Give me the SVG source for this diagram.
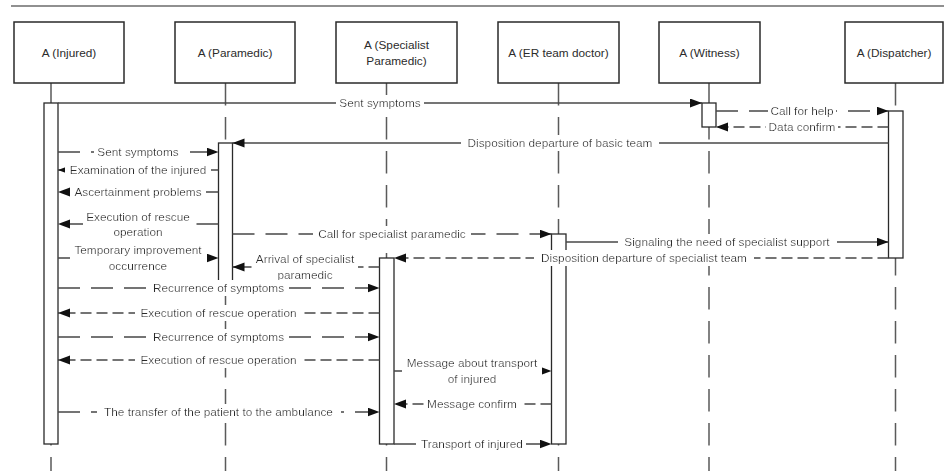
<svg xmlns="http://www.w3.org/2000/svg" width="944" height="471" viewBox="0 0 944 471">
<style>
.box{fill:#fff;stroke:#2a2a2a;stroke-width:1.5}
.lt{font-family:"Liberation Sans",Arial,sans-serif;font-size:11.8px;fill:#2b2b2b;text-anchor:middle}
.life{stroke:#5a5a5a;stroke-width:1.5;stroke-dasharray:22.5 11.5;fill:none}
.act{fill:#fff;stroke:#2a2a2a;stroke-width:1.3}
.msg{stroke:#474747;stroke-width:1.3;fill:none;marker-end:url(#ah)}
.long{stroke-dasharray:22 11}
.short{stroke-dasharray:11 5}
.lbl{font-family:"Liberation Sans",Arial,sans-serif;font-size:11.8px;fill:#2b2b2b;text-anchor:middle;filter:url(#bg)}
</style>
<defs>
<marker id="ah" markerUnits="userSpaceOnUse" markerWidth="13" markerHeight="10" refX="12" refY="4.5" orient="auto">
<path d="M0,0 L12,4.5 L0,9 z" fill="#111"/>
</marker>
<filter id="bg" x="-0.03" y="-0.05" width="1.06" height="1.1">
<feFlood flood-color="#fff"/>
<feComposite in="SourceGraphic"/>
</filter>
</defs>
<rect width="944" height="471" fill="#fff"/>
<line x1="11" y1="6" x2="944" y2="6" stroke="#222" stroke-width="1.2"/>

<g id="lifelines">
<line class="life" x1="51" y1="83" x2="51" y2="471"/>
<line class="life" x1="225.5" y1="83" x2="225.5" y2="471"/>
<line class="life" x1="386.5" y1="83" x2="386.5" y2="471"/>
<line class="life" x1="558.5" y1="83" x2="558.5" y2="471"/>
<line class="life" x1="709" y1="83" x2="709" y2="471"/>
<line class="life" x1="895.5" y1="83" x2="895.5" y2="471"/>
</g>

<g id="injured"><rect class="box" x="14" y="22" width="110" height="61"/><text class="lt" x="69" y="57">A (Injured)</text><rect class="act" x="44" y="103" width="14" height="341"/></g>
<g id="paramedic"><rect class="box" x="175" y="22" width="120" height="61"/><text class="lt" x="235" y="57">A (Paramedic)</text><rect class="act" x="218.5" y="143" width="14" height="139"/></g>
<g id="specialist"><rect class="box" x="336" y="22" width="121" height="61"/><text class="lt" x="396.5" y="49">A (Specialist<tspan x="396.5" dy="16">Paramedic)</tspan></text><rect class="act" x="379.5" y="258" width="14.5" height="186"/></g>
<g id="er"><rect class="box" x="498" y="22" width="121" height="61"/><text class="lt" x="558.5" y="57">A (ER team doctor)</text><rect class="act" x="551.5" y="234" width="14.5" height="210"/></g>
<g id="witness"><rect class="box" x="659" y="22" width="101" height="61"/><text class="lt" x="709.5" y="57">A (Witness)</text><rect class="act" x="702" y="103" width="14" height="24"/></g>
<g id="dispatcher"><rect class="box" x="845" y="22" width="98" height="61"/><text class="lt" x="894" y="57">A (Dispatcher)</text><rect class="act" x="888.5" y="111" width="14.5" height="147"/></g>

<g id="connectors">
<line class="msg" x1="58" y1="103" x2="702" y2="103"/>
<line class="msg long" x1="716" y1="111" x2="888.5" y2="111"/>
<line class="msg short" x1="888.5" y1="127" x2="716" y2="127"/>
<line class="msg" x1="888.5" y1="143" x2="232.5" y2="143"/>
<line class="msg long" x1="58" y1="152" x2="218.5" y2="152"/>
<line class="msg" x1="218.5" y1="170" x2="58" y2="170"/>
<line class="msg long" x1="218.5" y1="192" x2="58" y2="192"/>
<line class="msg long" x1="218.5" y1="224" x2="58" y2="224"/>
<line class="msg long" x1="232.5" y1="234" x2="551.5" y2="234"/>
<line class="msg" x1="566" y1="242" x2="888.5" y2="242"/>
<line class="msg long" x1="58" y1="258" x2="218.5" y2="258"/>
<line class="msg short" x1="888.5" y1="258" x2="394" y2="258"/>
<line class="msg short" x1="379.5" y1="267" x2="232.5" y2="267"/>
<line class="msg long" x1="58" y1="288" x2="379.5" y2="288"/>
<line class="msg short" x1="379.5" y1="313" x2="58" y2="313"/>
<line class="msg long" x1="58" y1="337" x2="379.5" y2="337"/>
<line class="msg short" x1="379.5" y1="360" x2="58" y2="360"/>
<line class="msg long" x1="394" y1="371" x2="551.5" y2="371"/>
<line class="msg short" x1="551.5" y1="404" x2="394" y2="404"/>
<line class="msg long" x1="58" y1="412" x2="379.5" y2="412"/>
<line class="msg long" x1="394" y1="444" x2="551.5" y2="444"/>
</g>

<g id="labels">
<text class="lbl" x="380" y="107">Sent symptoms</text>
<text class="lbl" x="802" y="115">Call for help</text>
<text class="lbl" x="802" y="131">Data confirm</text>
<text class="lbl" x="560" y="147">Disposition departure of basic team</text>
<text class="lbl" x="138" y="156">Sent symptoms</text>
<text class="lbl" x="138" y="174">Examination of the injured</text>
<text class="lbl" x="138" y="196">Ascertainment problems</text>
<text class="lbl" x="138" y="220.5">Execution of rescue<tspan x="138" dy="15.5">operation</tspan></text>
<text class="lbl" x="392" y="238">Call for specialist paramedic</text>
<text class="lbl" x="727" y="246">Signaling the need of specialist support</text>
<text class="lbl" x="138" y="254">Temporary improvement<tspan x="138" dy="16">occurrence</tspan></text>
<text class="lbl" x="644" y="262">Disposition departure of specialist team</text>
<text class="lbl" x="305" y="263">Arrival of specialist<tspan x="305" dy="16">paramedic</tspan></text>
<text class="lbl" x="218.5" y="292">Recurrence of symptoms</text>
<text class="lbl" x="218.5" y="317">Execution of rescue operation</text>
<text class="lbl" x="218.5" y="341">Recurrence of symptoms</text>
<text class="lbl" x="218.5" y="364">Execution of rescue operation</text>
<text class="lbl" x="472" y="367">Message about transport<tspan x="472" dy="16">of injured</tspan></text>
<text class="lbl" x="472" y="408">Message confirm</text>
<text class="lbl" x="218.5" y="416">The transfer of the patient to the ambulance</text>
<text class="lbl" x="472" y="448">Transport of injured</text>
</g>
</svg>
